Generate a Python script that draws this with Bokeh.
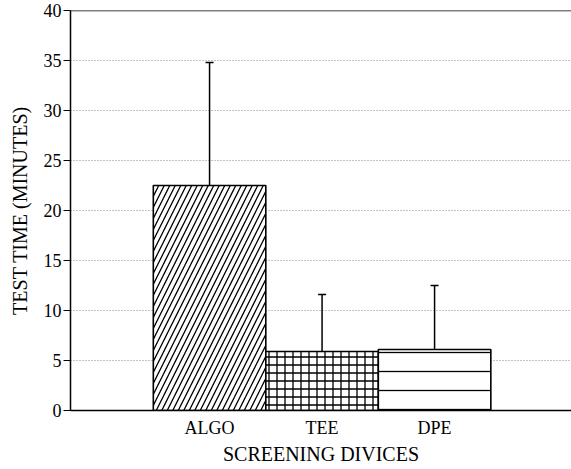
from bokeh.plotting import figure
from bokeh.models import Range1d, FixedTicker, Whisker, ColumnDataSource, Span
from bokeh.embed import file_html
from bokeh.resources import INLINE

categories = ["ALGO", "TEE", "DPE"]
means = [22.5, 5.9, 6.1]
sds = [12.3, 5.7, 6.4]
hatches = ["/", "+", "-"]
hatch_scales = [11, 8, 19]
y_ticks = [0, 5, 10, 15, 20, 25, 30, 35, 40]

xs = list(range(1, len(categories) + 1))
src = ColumnDataSource(dict(
    x=xs, top=means, hatch=hatches, hscale=hatch_scales,
    upper=[m + s for m, s in zip(means, sds)],
))

FONT = "Liberation Serif"

p = figure(width=571, height=467, output_backend="svg", toolbar_location=None,
           x_range=Range1d(-0.236, 4.217), y_range=Range1d(0, 40),
           min_border_left=70, min_border_right=0, min_border_top=10, min_border_bottom=57)
p.outline_line_color = None
p.background_fill_color = "white"
p.border_fill_color = "white"

p.vbar(x="x", top="top", width=1.0, bottom=0, source=src,
       fill_color="white", line_color="black", line_width=1.6,
       hatch_pattern="hatch", hatch_scale="hscale", hatch_color="black",
       hatch_weight=1.3)

w = Whisker(source=src, base="x", lower="top", upper="upper",
            line_color="black", line_width=1.5, lower_head=None)
w.upper_head.size = 8
w.upper_head.line_width = 1.5
p.add_layout(w)

top_line = Span(location=40, dimension="width", line_color="black", line_width=1.5)
p.add_layout(top_line)

p.xaxis.ticker = FixedTicker(ticks=xs)
p.xaxis.major_label_overrides = {x: c for x, c in zip(xs, categories)}
p.xaxis.major_tick_line_color = None
p.xaxis.minor_tick_line_color = None
p.xaxis.axis_line_width = 1.5
p.xaxis.axis_label = "SCREENING DIVICES"
p.xaxis.major_label_standoff = 1
p.xaxis.axis_label_standoff = 2

p.yaxis.ticker = FixedTicker(ticks=y_ticks)
p.yaxis.minor_tick_line_color = None
p.yaxis.major_tick_in = 0
p.yaxis.major_tick_out = 7
p.yaxis.major_label_standoff = 2
p.yaxis.axis_line_width = 1.5
p.yaxis.axis_label = "TEST TIME (MINUTES)"
p.yaxis.axis_label_standoff = 10

for ax in (p.xaxis[0], p.yaxis[0]):
    ax.major_label_text_font = FONT
    ax.major_label_text_font_size = "18px"
    ax.major_label_text_color = "black"
    ax.axis_label_text_font = FONT
    ax.axis_label_text_font_size = "20px"
    ax.axis_label_text_font_style = "normal"
    ax.axis_label_text_color = "black"
    ax.axis_line_color = "black"

p.xgrid.grid_line_color = None
p.ygrid.ticker = FixedTicker(ticks=[5, 10, 15, 20, 25, 30, 35])
p.ygrid.grid_line_color = "#888888"
p.ygrid.grid_line_dash = "1 2"
p.ygrid.grid_line_width = 1

open("out.html", "w").write(file_html(p, INLINE))
